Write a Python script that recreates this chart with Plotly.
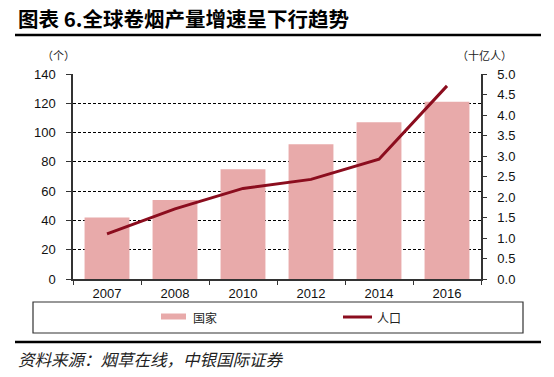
import plotly.graph_objects as go

categories = ["2007", "2008", "2010", "2012", "2014", "2016"]
countries = [42, 54, 75, 92, 107, 121]
population = [1.10, 1.71, 2.21, 2.43, 2.92, 4.71]
left_ticks = [0, 20, 40, 60, 80, 100, 120, 140]
right_ticks = [0.0, 0.5, 1.0, 1.5, 2.0, 2.5, 3.0, 3.5, 4.0, 4.5, 5.0]

W, H = 554, 377
# plot area in page pixel coordinates
L, R, T, B = 73, 481, 74, 279

bar_color = "#E8AAAA"
line_color = "#8B0D1E"
tick_font = dict(family="Liberation Sans Narrow, Arial Narrow, Liberation Sans, Arial, sans-serif",
                 size=13, color="#111")
cjk = "Noto Sans CJK SC, sans-serif"

fig = go.Figure()
fig.add_trace(go.Bar(x=categories, y=countries, name="国家", marker_color=bar_color,
                     marker_line_width=0, width=0.66, showlegend=False))
fig.add_trace(go.Scatter(x=categories, y=population, name="人口", yaxis="y2", mode="lines",
                         line=dict(color=line_color, width=3), showlegend=False))

def px(x):
    return (x - L) / (R - L)
def py(y):
    return (B - y) / (B - T)

fig.update_layout(
    width=W, height=H, autosize=False,
    margin=dict(l=L, r=W - R, t=T, b=H - B, pad=0),
    paper_bgcolor="white", plot_bgcolor="white",
    xaxis=dict(type="category", showline=True, linecolor="#333", linewidth=1.5,
               ticks="outside", ticklen=4, tickcolor="#333", tickson="boundaries",
               tickfont=tick_font, showgrid=False, ticklabelstandoff=2),
    yaxis=dict(range=[0, 140], tickvals=left_ticks, showline=True, linecolor="#333",
               linewidth=1.5, ticks="outside", ticklen=5, tickcolor="#333",
               tickfont=tick_font, showgrid=True, gridcolor="#000", gridwidth=1,
               griddash="3px,2px", zeroline=False, ticklabelstandoff=8),
    yaxis2=dict(range=[0, 5], tickvals=right_ticks, tickformat=".1f", overlaying="y",
                side="right", showline=True, linecolor="#333", linewidth=1.5,
                ticks="outside", ticklen=4, tickcolor="#333", tickfont=tick_font,
                showgrid=False, zeroline=False, ticklabelstandoff=8),
)

shapes = []
# title underline and bottom rule
shapes.append(dict(type="line", xref="paper", yref="paper", x0=px(15), x1=px(541),
                   y0=py(35), y1=py(35), line=dict(color="black", width=2.5)))
shapes.append(dict(type="line", xref="paper", yref="paper", x0=px(15), x1=px(541),
                   y0=py(342), y1=py(342), line=dict(color="black", width=2.5)))
# legend box
shapes.append(dict(type="rect", xref="paper", yref="paper", x0=px(33), x1=px(523),
                   y0=py(333), y1=py(302), line=dict(color="#333", width=1.2)))
# legend swatches
shapes.append(dict(type="rect", xref="paper", yref="paper", x0=px(161), x1=px(186),
                   y0=py(319.5), y1=py(313.5), fillcolor=bar_color, line=dict(width=0)))
shapes.append(dict(type="line", xref="paper", yref="paper", x0=px(343), x1=px(372),
                   y0=py(317), y1=py(317), line=dict(color=line_color, width=3)))
fig.update_layout(shapes=shapes)

ann = []
ann.append(dict(text="<b>图表 6.全球卷烟产量增速呈下行趋势</b>", xref="paper", yref="paper",
                x=px(16), y=py(18), xanchor="left", yanchor="middle", showarrow=False,
                font=dict(family=cjk, size=20.5, color="black")))
ann.append(dict(text="（个）", xref="paper", yref="paper", x=px(58), y=py(55),
                xanchor="center", yanchor="middle", showarrow=False,
                font=dict(family=cjk, size=11, color="#222")))
ann.append(dict(text="（十亿人）", xref="paper", yref="paper", x=px(484), y=py(55),
                xanchor="center", yanchor="middle", showarrow=False,
                font=dict(family=cjk, size=11, color="#222")))
ann.append(dict(text="国家", xref="paper", yref="paper", x=px(191), y=py(317),
                xanchor="left", yanchor="middle", showarrow=False,
                font=dict(family=cjk, size=12, color="#222")))
ann.append(dict(text="人口", xref="paper", yref="paper", x=px(375), y=py(317),
                xanchor="left", yanchor="middle", showarrow=False,
                font=dict(family=cjk, size=12, color="#222")))
ann.append(dict(text="<i>资料来源：烟草在线，中银国际证券</i>", xref="paper", yref="paper",
                x=px(16), y=py(359), xanchor="left", yanchor="middle", showarrow=False,
                font=dict(family=cjk, size=16.5, color="#222")))
fig.update_layout(annotations=ann)

# remove the browser's default 8px body margin so the figure fills the window exactly
fig.write_html("out.html", config={"displayModeBar": False},
               post_script="document.body.style.margin='0px';")
